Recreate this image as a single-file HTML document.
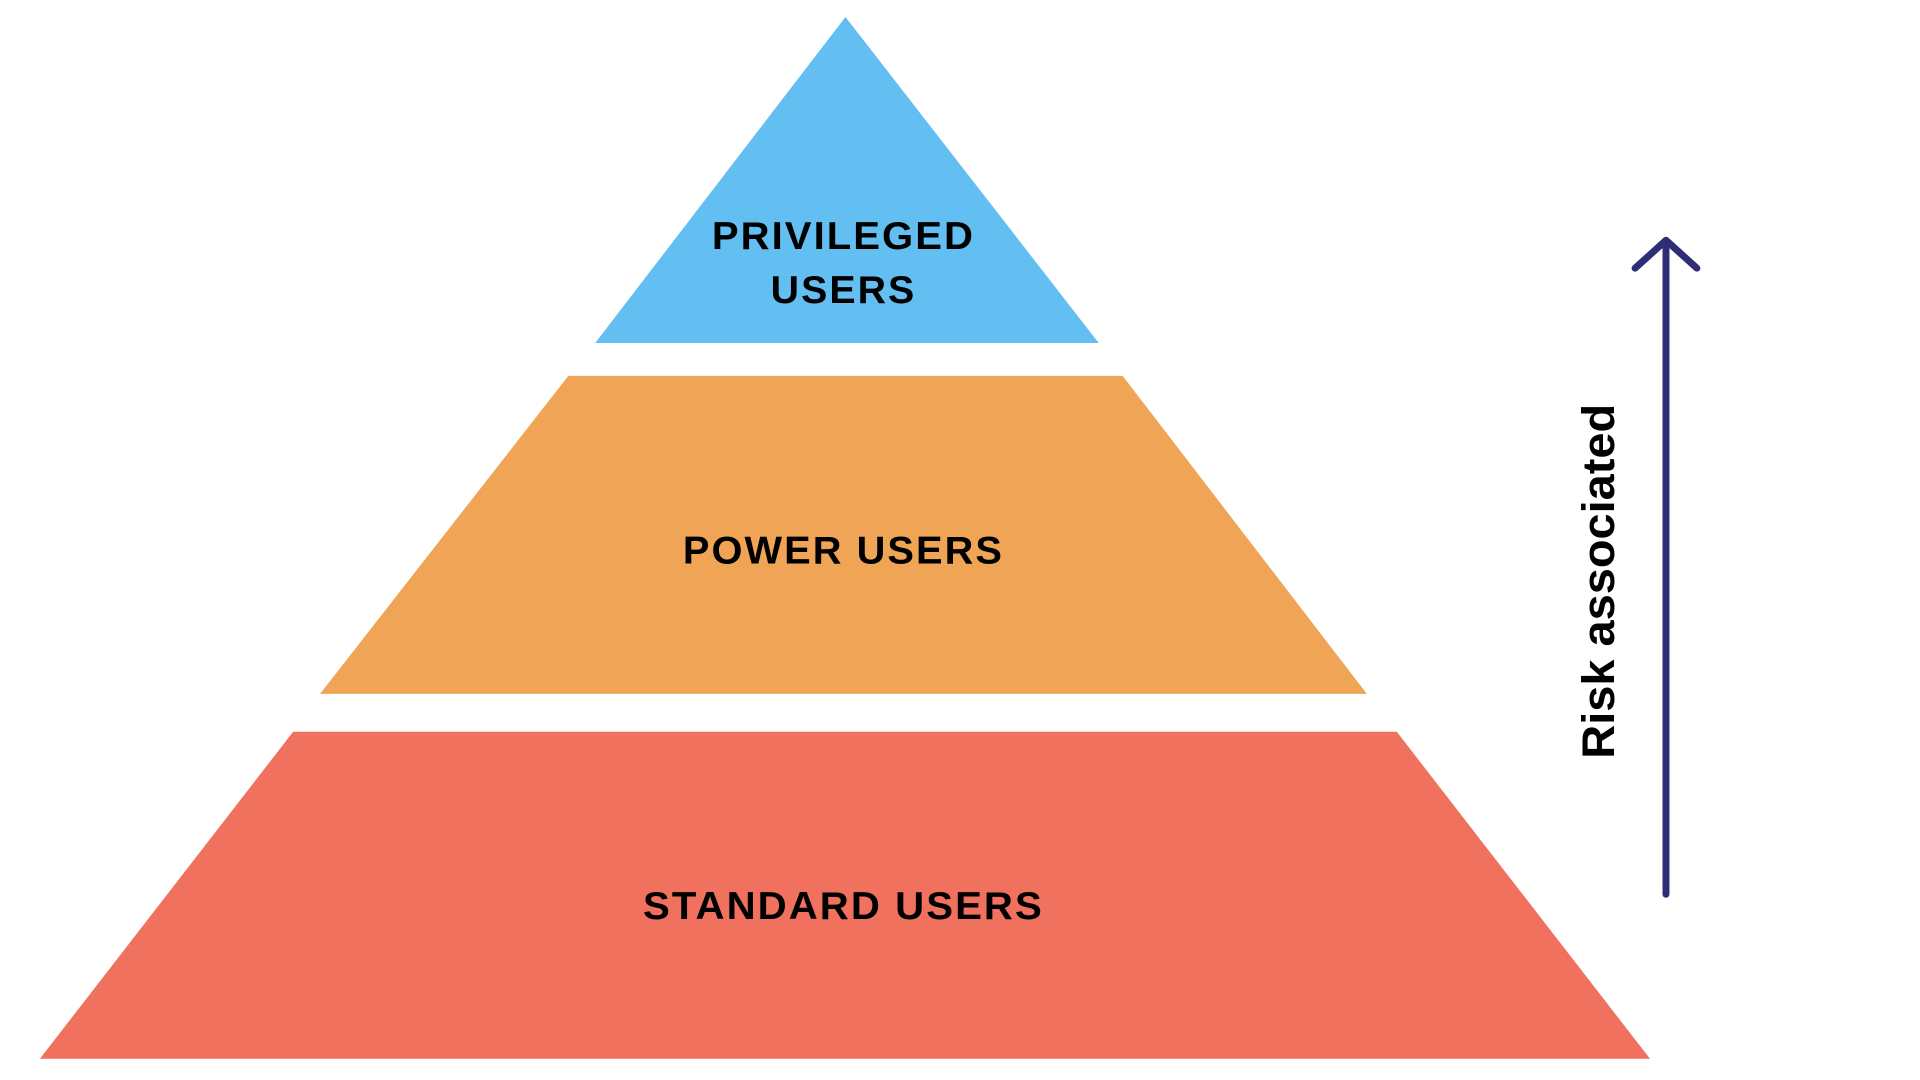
<!DOCTYPE html>
<html><head><style>
html,body{margin:0;padding:0;background:#fff;}
svg{display:block;}
text{font-family:"Liberation Sans",sans-serif;font-weight:bold;fill:#000;}
</style></head><body>
<svg width="1920" height="1080" viewBox="0 0 1920 1080">
<g transform="translate(-1,-1) scale(0.997)">
<polygon points="849,18 1103,345 598,345" fill="#63BEF2"/>
<polygon points="571,378 1127,378 1372,697 322,697" fill="#EFA555"/>
<polygon points="295,735 1402,735 1656,1063 41,1063" fill="#F0715E"/>
<g font-size="39" text-anchor="middle" letter-spacing="2">
<text x="847" y="251" textLength="264" lengthAdjust="spacingAndGlyphs">PRIVILEGED</text>
<text x="847" y="305" textLength="146" lengthAdjust="spacingAndGlyphs">USERS</text>
<text x="847" y="566" textLength="322" lengthAdjust="spacingAndGlyphs">POWER USERS</text>
<text x="847" y="923" textLength="402" lengthAdjust="spacingAndGlyphs">STANDARD USERS</text>
</g>
<line x1="1672" y1="244" x2="1672" y2="898" stroke="#2E2E78" stroke-width="7" stroke-linecap="round"/>
<polyline points="1641,270 1672,242 1703,270" fill="none" stroke="#2E2E78" stroke-width="7" stroke-linecap="round" stroke-linejoin="round"/>
<text transform="translate(1620,584) rotate(-90)" font-size="46" text-anchor="middle" textLength="356" lengthAdjust="spacingAndGlyphs">Risk associated</text>
</g>
</svg>
</body></html>
